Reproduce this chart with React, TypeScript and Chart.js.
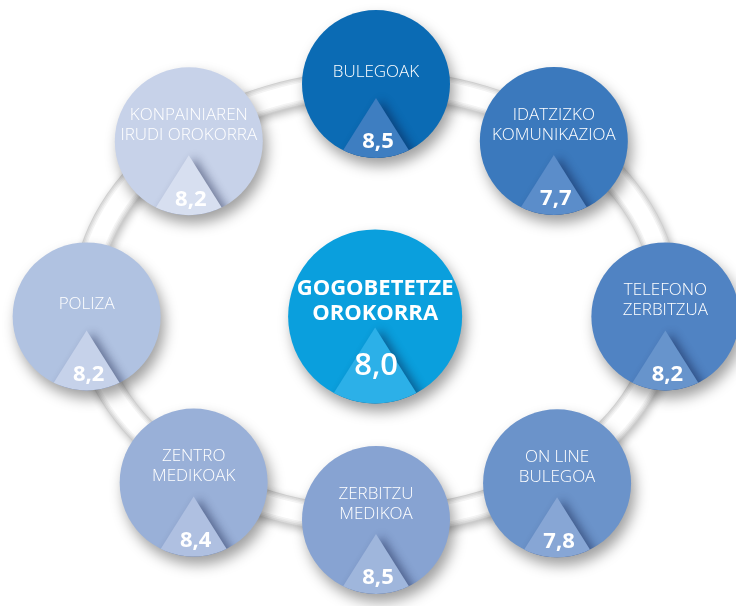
import React, { useEffect, useRef } from "react";
import { Chart, registerables } from "chart.js";

Chart.register(...registerables);

// ---- Data ----
const categories: string[][] = [
  ["BULEGOAK"],
  ["IDATZIZKO", "KOMUNIKAZIOA"],
  ["TELEFONO", "ZERBITZUA"],
  ["ON LINE", "BULEGOA"],
  ["ZERBITZU", "MEDIKOA"],
  ["ZENTRO", "MEDIKOAK"],
  ["POLIZA"],
  ["KONPAINIAREN", "IRUDI OROKORRA"],
];
const values: number[] = [8.5, 7.7, 8.2, 7.8, 8.5, 8.4, 8.2, 8.2];
const overallLabel: string[] = ["GOGOBETETZE", "OROKORRA"];
const overallValue: number = 8.0;

// ---- Styling / layout ----
const circleColors = ["#0b6bb4", "#3b79bd", "#5083c3", "#6b93ca", "#87a3d2", "#99b0d8", "#b0c2e1", "#c7d2e9"];
const triangleColors = ["#3e7ec1", "#5b8dca", "#6794cc", "#87a6d5", "#9fb6dc", "#afc0e1", "#c6d2ea", "#d7dff0"];
const overallColor = "#0a9fdd";
const overallTriangle = "#2cb0e8";
const ringAngles = [90, 50.3, -3.8, -53.1, -90, -127.2, 183.8, 131.2];
const ringRadii = [1, 0.96, 1, 1.04, 1, 1.04, 1, 0.98];
const overallOffset = { x: -0.003, y: -0.066 };

const W = 736;
const H = 606;
const CX = 376, CY = 302, RX = 290, RY = 218;

const fmt = (v: number) => v.toFixed(1).replace(".", ",");

const plugin = {
  id: "infographic",
  beforeDatasetsDraw(chart: any) {
    const { ctx, scales } = chart;
    const cx = scales.x.getPixelForValue(0);
    const cy = scales.y.getPixelForValue(0);
    const rx = scales.x.getPixelForValue(1) - cx;
    const ry = cy - scales.y.getPixelForValue(1);
    ctx.save();
    const path = () => {
      ctx.beginPath();
      ctx.ellipse(cx, cy, rx, ry, 0, 0, Math.PI * 2);
    };
    ctx.shadowColor = "rgba(0,0,0,0.28)";
    ctx.shadowBlur = 9;
    ctx.shadowOffsetX = 2;
    ctx.shadowOffsetY = 3;
    path();
    ctx.lineWidth = 28;
    ctx.strokeStyle = "#cfcfcf";
    ctx.stroke();
    ctx.shadowColor = "transparent";
    const layers: [number, string][] = [
      [26, "#dcdcdc"],
      [23, "#e9e9e9"],
      [20, "#f4f4f4"],
      [17, "#ffffff"],
    ];
    for (const [w, c] of layers) {
      path();
      ctx.lineWidth = w;
      ctx.strokeStyle = c;
      ctx.stroke();
    }
    ctx.restore();
  },
  beforeDatasetDraw(chart: any) {
    const ctx = chart.ctx;
    ctx.save();
    ctx.shadowColor = "rgba(0,0,0,0.38)";
    ctx.shadowBlur = 14;
    ctx.shadowOffsetX = 4;
    ctx.shadowOffsetY = 8;
  },
  afterDatasetDraw(chart: any) {
    chart.ctx.restore();
  },
  afterDatasetsDraw(chart: any) {
    const ctx = chart.ctx;
    const drawNode = (
      x: number, y: number, r: number, triColor: string,
      lines: string[], value: string, big: boolean
    ) => {
      ctx.save();
      ctx.beginPath();
      ctx.arc(x, y, r, 0, Math.PI * 2);
      ctx.clip();
      const apex = y + (big ? 11 : 14);
      const h = r * 1.2;
      const hw = h * 0.63;
      ctx.shadowColor = "rgba(10,20,60,0.45)";
      ctx.shadowBlur = 10;
      ctx.shadowOffsetX = 6;
      ctx.shadowOffsetY = 2;
      ctx.beginPath();
      ctx.moveTo(x, apex);
      ctx.lineTo(x + hw, apex + h);
      ctx.lineTo(x - hw, apex + h);
      ctx.closePath();
      ctx.fillStyle = triColor;
      ctx.fill();
      ctx.restore();

      ctx.save();
      ctx.fillStyle = "#ffffff";
      ctx.textAlign = "center";
      ctx.textBaseline = "middle";
      if (big) {
        ctx.font = '700 22px "Open Sans", sans-serif';
        const lh = 25;
        const start = y - 28;
        lines.forEach((l, i) => ctx.fillText(l, x, start + i * lh));
        ctx.font = '600 31px "Open Sans", sans-serif';
        ctx.fillText(value, x + 1, y + 50);
      } else {
        ctx.font = '300 17px "Open Sans", sans-serif';
        const lh = 20;
        const start = lines.length === 1 ? y - 12 : y - 26;
        lines.forEach((l, i) => ctx.fillText(l, x, start + i * lh));
        ctx.font = '700 22px "Open Sans", sans-serif';
        ctx.fillText(value, x + 2, y + 58);
      }
      ctx.restore();
    };

    const ringMeta = chart.getDatasetMeta(0);
    ringMeta.data.forEach((pt: any, i: number) => {
      drawNode(pt.x, pt.y, pt.options.radius, triangleColors[i], categories[i], fmt(values[i]), false);
    });
    const cMeta = chart.getDatasetMeta(1);
    cMeta.data.forEach((pt: any) => {
      drawNode(pt.x, pt.y, pt.options.radius, overallTriangle, overallLabel, fmt(overallValue), true);
    });
  },
};

export default function App() {
  const ref = useRef<HTMLCanvasElement>(null);
  useEffect(() => {
    document.body.style.margin = "0";
    const canvas = ref.current!;
    const ringPoints = ringAngles.map((a, i) => ({
      x: ringRadii[i] * Math.cos((a * Math.PI) / 180),
      y: ringRadii[i] * Math.sin((a * Math.PI) / 180),
    }));
    const chart = new Chart(canvas, {
      type: "scatter",
      data: {
        datasets: [
          {
            data: ringPoints,
            pointRadius: 74,
            pointHoverRadius: 74,
            pointBorderWidth: 0,
            pointBackgroundColor: circleColors,
            pointBorderColor: "transparent",
            clip: false as any,
          },
          {
            data: [{ x: overallOffset.x, y: overallOffset.y }],
            pointRadius: 87,
            pointHoverRadius: 87,
            pointBorderWidth: 0,
            pointBackgroundColor: overallColor,
            pointBorderColor: "transparent",
            clip: false as any,
          },
        ],
      },
      options: {
        responsive: false,
        animation: false,
        events: [],
        layout: { padding: 0, autoPadding: false },
        plugins: { legend: { display: false }, tooltip: { enabled: false } },
        scales: {
          x: { type: "linear", display: false, min: -CX / RX, max: (W - CX) / RX },
          y: { type: "linear", display: false, min: -(H - CY) / RY, max: CY / RY },
        },
      },
      plugins: [plugin],
    });
    return () => chart.destroy();
  }, []);
  return (
    <div style={{ position: "absolute", left: 0, top: 0, width: W, height: H, background: "#fff" }}>
      <canvas ref={ref} width={W} height={H} style={{ width: W, height: H, display: "block" }} />
    </div>
  );
}
